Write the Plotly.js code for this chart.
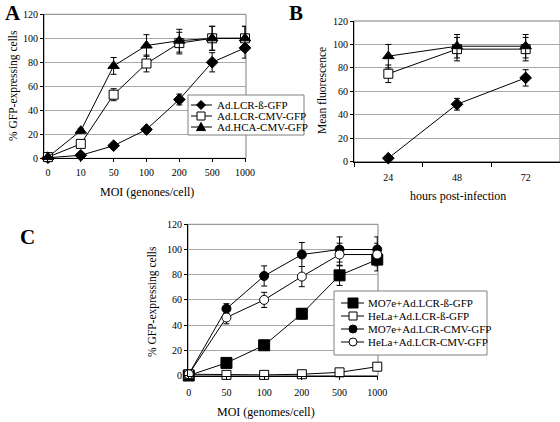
<!DOCTYPE html>
<html>
<head>
<meta charset="utf-8">
<script src="https://cdn.plot.ly/plotly-3.0.1.min.js"></script>
<style>html,body{margin:0;padding:0;background:#fff;} #chart{width:560px;height:422px;}</style>
</head>
<body>
<div id="chart"></div>
<script>
// ---------- Panel A data ----------
const moiA = ['0', '10', '50', '100', '200', '500', '1000'];
const aNames = ['Ad.LCR-ß-GFP', 'Ad.LCR-CMV-GFP', 'Ad.HCA-CMV-GFP'];
const aLcrB = [0.5, 2.5, 10.5, 24, 49, 80, 92];
const aLcrBErr = [0.5, 0.8, 1, 1.5, 4.5, 8, 8.5];
const aLcrCmv = [1, 12, 53, 79, 96, 100, 100];
const aLcrCmvErr = [1, 1, 5, 7, 9, 10, 10];
const aHcaCmv = [1, 23, 77, 94, 98, 100, 100];
const aHcaCmvErr = [1, 2, 7, 9, 9.5, 10, 10];

// ---------- Panel B data ----------
const hours = ['24', '48', '72'];
const bLcrB = [3, 49, 71.5];
const bLcrBErr = [0.5, 5, 7];
const bLcrCmv = [75, 96, 96];
const bLcrCmvErr = [7.5, 10, 10];
const bHcaCmv = [90, 98.5, 98.5];
const bHcaCmvErr = [10, 10, 10];

// ---------- Panel C data ----------
const moiC = ['0', '50', '100', '200', '500', '1000'];
const cNames = ['MO7e+Ad.LCR-ß-GFP', 'HeLa+Ad.LCR-ß-GFP', 'MO7e+Ad.LCR-CMV-GFP', 'HeLa+Ad.LCR-CMV-GFP'];
const cMo7eB = [0, 10, 24, 49, 79.5, 92];
const cMo7eBErr = [0.5, 1, 1.5, 4, 8, 9];
const cHelaB = [1, 0.5, 0.5, 1, 2.5, 7];
const cHelaBErr = [0.5, 0.3, 0.3, 0.5, 0.5, 1];
const cMo7eCmv = [1, 53, 79, 96, 100, 100];
const cMo7eCmvErr = [0.5, 4, 8, 9.5, 10, 10];
const cHelaCmv = [1, 46, 60, 78.5, 96, 96];
const cHelaCmvErr = [0.5, 5, 6, 8, 9, 9];

const FONT = 'Liberation Serif, Times New Roman, serif';
const W = 560, H = 422;
const px = v => v / W;
const py = v => 1 - v / H;

function series(x, y, err, symbol, fill, size, xa, ya) {
  return {
    type: 'scatter', mode: 'lines+markers', x: x, y: y,
    xaxis: xa, yaxis: ya, cliponaxis: false, showlegend: false,
    line: {color: '#000', width: 1},
    marker: {symbol: symbol, size: size, color: fill, line: {color: '#000', width: 1}},
    error_y: {type: 'data', array: err, visible: true, color: '#000', thickness: 1, width: 3}
  };
}

const traces = [
  series(moiA, aLcrB, aLcrBErr, 'diamond', '#000', 9, 'x', 'y'),
  series(moiA, aLcrCmv, aLcrCmvErr, 'square', '#fff', 9, 'x', 'y'),
  series(moiA, aHcaCmv, aHcaCmvErr, 'triangle-up', '#000', 10, 'x', 'y'),
  series(hours, bLcrB, bLcrBErr, 'diamond', '#000', 9, 'x2', 'y2'),
  series(hours, bLcrCmv, bLcrCmvErr, 'square', '#fff', 9, 'x2', 'y2'),
  series(hours, bHcaCmv, bHcaCmvErr, 'triangle-up', '#000', 10, 'x2', 'y2'),
  series(moiC, cMo7eB, cMo7eBErr, 'square', '#000', 11, 'x3', 'y3'),
  series(moiC, cHelaB, cHelaBErr, 'square', '#fff', 9, 'x3', 'y3'),
  series(moiC, cMo7eCmv, cMo7eCmvErr, 'circle', '#000', 9, 'x3', 'y3'),
  series(moiC, cHelaCmv, cHelaCmvErr, 'circle', '#fff', 9, 'x3', 'y3')
];

const tickFont = {family: FONT, size: 10, color: '#000'};

function xAxis(domain, range, extra) {
  return Object.assign({
    type: 'category', domain: domain, range: range, showgrid: false, zeroline: false,
    showline: true, linecolor: '#000', linewidth: 1, ticks: 'outside', ticklen: 3,
    tickcolor: '#000', tickfont: tickFont, ticklabelstandoff: 6, fixedrange: true
  }, extra || {});
}
function yAxis(domain, anchor) {
  return {
    domain: domain, range: [0, 120], dtick: 20, tick0: 0, anchor: anchor,
    showgrid: true, gridcolor: '#a8a8a8', gridwidth: 1, zeroline: false,
    showline: true, linecolor: '#000', linewidth: 1, ticks: 'outside', ticklen: 3,
    tickcolor: '#000', tickfont: tickFont, fixedrange: true
  };
}

// ---------- manual legends ----------
const shapes = [];
const annotations = [];

function frame(xr, yr) {
  shapes.push({type: 'rect', xref: xr + ' domain', yref: yr + ' domain', x0: 0, x1: 1, y0: 0, y1: 1,
    line: {color: '#808080', width: 1}, layer: 'below'});
}
frame('x', 'y'); frame('x2', 'y2'); frame('x3', 'y3');

function marker(sym, fill, cx, cy, r) {
  const L = {color: '#000', width: 1};
  if (sym === 'square') {
    shapes.push({type: 'rect', xref: 'paper', yref: 'paper', x0: px(cx - r), x1: px(cx + r), y0: py(cy + r), y1: py(cy - r), fillcolor: fill, line: L});
  } else if (sym === 'circle') {
    shapes.push({type: 'circle', xref: 'paper', yref: 'paper', x0: px(cx - r), x1: px(cx + r), y0: py(cy + r), y1: py(cy - r), fillcolor: fill, line: L});
  } else if (sym === 'diamond') {
    shapes.push({type: 'path', xref: 'paper', yref: 'paper', fillcolor: fill, line: L,
      path: `M ${px(cx)} ${py(cy - r)} L ${px(cx + r)} ${py(cy)} L ${px(cx)} ${py(cy + r)} L ${px(cx - r)} ${py(cy)} Z`});
  } else if (sym === 'triangle') {
    shapes.push({type: 'path', xref: 'paper', yref: 'paper', fillcolor: fill, line: L,
      path: `M ${px(cx)} ${py(cy - r)} L ${px(cx + r)} ${py(cy + r * 0.8)} L ${px(cx - r)} ${py(cy + r * 0.8)} Z`});
  }
}

function legend(box, rows, names, syms, fills, rad, lx0, lx1, mx, tx) {
  shapes.push({type: 'rect', xref: 'paper', yref: 'paper', x0: px(box[0]), x1: px(box[2]), y0: py(box[3]), y1: py(box[1]),
    fillcolor: '#fff', line: {color: '#808080', width: 1}});
  names.forEach((n, i) => {
    const y = rows[i];
    shapes.push({type: 'line', xref: 'paper', yref: 'paper', x0: px(lx0), x1: px(lx1), y0: py(y), y1: py(y), line: {color: '#000', width: 1}});
    marker(syms[i], fills[i], mx, y, rad[i]);
    annotations.push({xref: 'paper', yref: 'paper', x: px(tx), y: py(y), xanchor: 'left', yanchor: 'middle',
      text: n, showarrow: false, font: {family: FONT, size: 11, color: '#000'}});
  });
}

legend([188, 95, 304, 135], [105, 116, 127], aNames,
  ['diamond', 'square', 'triangle'], ['#000', '#fff', '#000'], [4.5, 4, 4.5], 191, 212, 201, 215);
legend([334, 291, 487, 355], [303, 316, 329, 342], cNames,
  ['square', 'square', 'circle', 'circle'], ['#000', '#fff', '#000', '#fff'], [5, 4, 4, 4], 341, 364, 353, 366);

function label(text, x, y, size, bold, rot) {
  annotations.push({xref: 'paper', yref: 'paper', x: px(x), y: py(y), xanchor: 'center', yanchor: 'middle',
    text: bold ? '<b>' + text + '</b>' : text, showarrow: false, textangle: rot || 0,
    font: {family: FONT, size: size, color: '#000'}});
}
label('A', 13, 13, 21, true);
label('B', 296, 13, 21, true);
label('C', 27, 237, 21, true);
label('% GFP-expressing cells', 13, 86, 11.5, false, -90);
label('MOI (genones/cell)', 147, 192, 12, false);
label('Mean fluorescence', 322, 91, 11.5, false, -90);
label('hours post-infection', 458, 196, 12, false);
label('% GFP-expressing cells', 152, 302, 11.5, false, -90);
label('MOI (genomes/cell)', 266, 412, 12, false);

const layout = {
  width: W, height: H, margin: {l: 0, r: 0, t: 0, b: 0},
  paper_bgcolor: '#fff', plot_bgcolor: '#fff', showlegend: false,
  xaxis: xAxis([px(44), px(246)], [-0.12, 6.03], {anchor: 'y', ticklabelstandoff: 2}),
  yaxis: yAxis([py(158.3), py(14.3)], 'x'),
  xaxis2: xAxis([px(354), px(560)], [-0.5, 2.5], {anchor: 'y2', tickson: 'boundaries', ticklen: 4, ticklabelstandoff: 6}),
  yaxis2: yAxis([py(161.7), py(21)], 'x2'),
  xaxis3: xAxis([px(188), px(378)], [-0.02, 5.02], {anchor: 'y3', ticklabelstandoff: 4}),
  yaxis3: yAxis([py(375.5), py(224.3)], 'x3'),
  shapes: shapes,
  annotations: annotations
};

Plotly.newPlot('chart', traces, layout, {displayModeBar: false, staticPlot: true});
</script>
</body>
</html>
